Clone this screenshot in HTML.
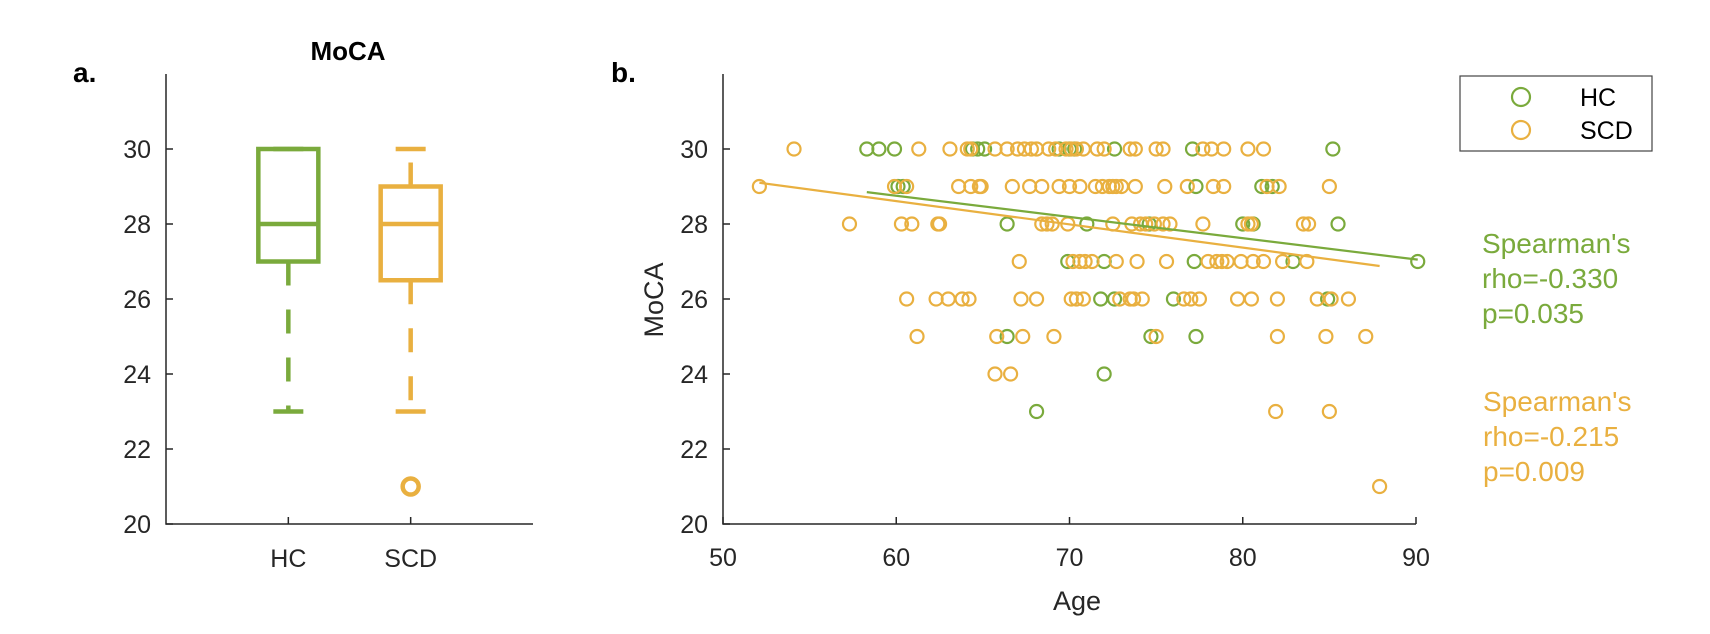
<!DOCTYPE html>
<html><head><meta charset="utf-8">
<style>
html,body{margin:0;padding:0;background:#fff;}
svg{display:block;font-family:"Liberation Sans",Arial,sans-serif;}
</style></head>
<body>
<svg id="fig" width="1710" height="634" viewBox="0 0 1710 634">
  <g id="pa"></g>
  <g id="pb"></g>
</svg>
<script>
// ---------- Panel a data ----------
const boxCats = ['HC','SCD'];
const boxQ1 = [27, 26.5];
const boxMed = [28, 28];
const boxQ3 = [30, 29];
const boxLo = [23, 23];
const boxHi = [30, 30];
const boxOutliers = [[], [21]];
const yTicks = [20,22,24,26,28,30];

// ---------- Panel b data ----------
const xTicks = [50,60,70,80,90];
const hcAge = [58.3,59.0,59.9,64.4,64.7,65.1,69.4,70.0,70.3,72.6,77.1,85.2,
  60.1,60.4,77.3,81.1,81.7,
  66.4,71.0,74.6,80.0,80.6,85.5,
  69.9,72.0,77.2,82.9,90.1,
  71.8,72.6,76.0,84.9,
  66.4,74.7,77.3,
  72.0,
  68.1];
const hcMoca = [30,30,30,30,30,30,30,30,30,30,30,30,
  29,29,29,29,29,
  28,28,28,28,28,28,
  27,27,27,27,27,
  26,26,26,26,
  25,25,25,
  24,
  23];
const scdAge = [54.1,61.3,63.1,64.1,64.3,65.7,66.4,67.0,67.4,67.8,68.1,68.8,69.2,69.8,70.1,70.4,70.8,71.6,72.0,73.5,73.8,75.0,75.4,77.7,78.2,78.9,80.3,81.2,
  52.1,59.9,60.6,63.6,64.3,64.8,64.9,66.7,67.7,68.4,69.4,70.0,70.6,71.5,71.9,72.3,72.5,72.7,73.0,73.8,75.5,76.8,78.3,78.9,81.4,82.1,85.0,
  57.3,60.3,60.9,62.4,62.5,68.4,68.7,69.0,69.9,72.5,73.6,74.1,74.4,74.9,75.4,75.8,77.7,80.3,80.5,83.5,83.8,
  67.1,70.2,70.6,70.9,71.3,72.7,73.9,75.6,78.0,78.5,78.8,79.1,79.9,80.6,81.2,82.3,83.7,
  60.6,62.3,63.0,63.8,64.2,67.2,68.1,70.1,70.4,70.8,72.9,73.5,73.7,74.2,76.6,77.0,77.5,79.7,80.5,82.0,84.3,85.1,86.1,
  61.2,65.8,67.3,69.1,75.0,82.0,84.8,87.1,
  65.7,66.6,
  81.9,85.0,
  87.9];
const scdMoca = [30,30,30,30,30,30,30,30,30,30,30,30,30,30,30,30,30,30,30,30,30,30,30,30,30,30,30,30,
  29,29,29,29,29,29,29,29,29,29,29,29,29,29,29,29,29,29,29,29,29,29,29,29,29,29,29,
  28,28,28,28,28,28,28,28,28,28,28,28,28,28,28,28,28,28,28,28,28,
  27,27,27,27,27,27,27,27,27,27,27,27,27,27,27,27,27,
  26,26,26,26,26,26,26,26,26,26,26,26,26,26,26,26,26,26,26,26,26,26,26,
  25,25,25,25,25,25,25,25,
  24,24,
  23,23,
  21];
const hcFitX = [58.3, 90.1];
const hcFitY = [28.85, 27.05];
const scdFitX = [52.1, 87.9];
const scdFitY = [29.1, 26.88];

const GREEN = '#7AAA3C', ORANGE = '#E9B040', AX = '#262626';
const NS = 'http://www.w3.org/2000/svg';
function mk(parent, tag, attrs, text){
  const e = document.createElementNS(NS, tag);
  for (const k in attrs) e.setAttribute(k, attrs[k]);
  if (text !== undefined) e.textContent = text;
  parent.appendChild(e);
  return e;
}
// shared y scale
const Y0 = 524, Y1 = 74, YMIN = 20, YMAX = 32;
const y = v => Y0 - (v - YMIN) / (YMAX - YMIN) * (Y0 - Y1);

// ---------- Panel a ----------
const pa = document.getElementById('pa');
const AX0 = 166, AX1 = 533;
const xa = v => AX0 + v / 3 * (AX1 - AX0);
let t;
t = mk(pa,'text',{x:73,y:82,'font-size':28,'font-weight':'bold',fill:'#000'},'a.');
 
t = mk(pa,'text',{x:348,y:60,'font-size':26,'font-weight':'bold','text-anchor':'middle',fill:'#000'},'MoCA');
 
let ln = mk(pa,'path',{d:`M${AX0},${Y1} V${Y0} H${AX1}`,stroke:AX,'stroke-width':1.5,fill:'none'});
 
yTicks.forEach(v=>{
  const l = mk(pa,'line',{x1:AX0,x2:AX0+7,y1:y(v),y2:y(v),stroke:AX,'stroke-width':1.5});
   
  const tx = mk(pa,'text',{x:151,y:y(v)+9,'font-size':25,'text-anchor':'end',fill:AX},String(v));
   
});
boxCats.forEach((c,i)=>{
  const cx = xa(i+1), col = i===0?GREEN:ORANGE, hw = 30, cw = 15;
  const l = mk(pa,'line',{x1:cx,x2:cx,y1:Y0,y2:Y0-7,stroke:AX,'stroke-width':1.5});
   
  const tx = mk(pa,'text',{x:cx,y:567,'font-size':25,'text-anchor':'middle',fill:AX},c);
   
  const g = mk(pa,'g',{});
   
  mk(g,'line',{x1:cx,x2:cx,y1:y(boxQ1[i]),y2:y(boxLo[i]),stroke:col,'stroke-width':4.5,'stroke-dasharray':'24 24'});
  mk(g,'line',{x1:cx,x2:cx,y1:y(boxQ3[i]),y2:y(boxHi[i]),stroke:col,'stroke-width':4.5,'stroke-dasharray':'24 24'});
  mk(g,'line',{x1:cx-cw,x2:cx+cw,y1:y(boxLo[i]),y2:y(boxLo[i]),stroke:col,'stroke-width':4.5});
  mk(g,'line',{x1:cx-cw,x2:cx+cw,y1:y(boxHi[i]),y2:y(boxHi[i]),stroke:col,'stroke-width':4.5});
  mk(g,'rect',{x:cx-hw,y:y(boxQ3[i]),width:2*hw,height:y(boxQ1[i])-y(boxQ3[i]),stroke:col,'stroke-width':4.5,fill:'none'});
  mk(g,'line',{x1:cx-hw,x2:cx+hw,y1:y(boxMed[i]),y2:y(boxMed[i]),stroke:col,'stroke-width':4.5});
  boxOutliers[i].forEach(o=>{
    const cc = mk(g,'circle',{cx:cx,cy:y(o),r:8,stroke:col,'stroke-width':4.5,fill:'none'});
     
  });
});

// ---------- Panel b ----------
const pb = document.getElementById('pb');
const BX0 = 723, BX1 = 1416, XMIN = 50, XMAX = 90;
const xb = v => BX0 + (v - XMIN) / (XMAX - XMIN) * (BX1 - BX0);
t = mk(pb,'text',{x:611,y:82,'font-size':28,'font-weight':'bold',fill:'#000'},'b.');
 
ln = mk(pb,'path',{d:`M${BX0},${Y1} V${Y0} H${BX1}`,stroke:AX,'stroke-width':1.5,fill:'none'});
 
yTicks.forEach(v=>{
  const l = mk(pb,'line',{x1:BX0,x2:BX0+7,y1:y(v),y2:y(v),stroke:AX,'stroke-width':1.5});
   
  const tx = mk(pb,'text',{x:708,y:y(v)+9,'font-size':25,'text-anchor':'end',fill:AX},String(v));
   
});
xTicks.forEach(v=>{
  const l = mk(pb,'line',{x1:xb(v),x2:xb(v),y1:Y0,y2:Y0-7,stroke:AX,'stroke-width':1.5});
   
  const tx = mk(pb,'text',{x:xb(v),y:566,'font-size':25,'text-anchor':'middle',fill:AX},String(v));
   
});
t = mk(pb,'text',{x:1077,y:610,'font-size':27,'text-anchor':'middle',fill:AX},'Age');
 
t = mk(pb,'text',{x:0,y:0,'font-size':27,'text-anchor':'middle',fill:AX,transform:'translate(663,300) rotate(-90)'},'MoCA');
 

const gh = mk(pb,'g',{});
 
hcAge.forEach((a,i)=>{
  const c = mk(gh,'circle',{cx:xb(a),cy:y(hcMoca[i]),r:6.5,stroke:GREEN,'stroke-width':2.2,fill:'none'});
   
});
const gs = mk(pb,'g',{});
 
scdAge.forEach((a,i)=>{
  const c = mk(gs,'circle',{cx:xb(a),cy:y(scdMoca[i]),r:6.5,stroke:ORANGE,'stroke-width':2.2,fill:'none'});
   
});
ln = mk(pb,'line',{x1:xb(hcFitX[0]),y1:y(hcFitY[0]),x2:xb(hcFitX[1]),y2:y(hcFitY[1]),stroke:GREEN,'stroke-width':2.2});
 
ln = mk(pb,'line',{x1:xb(scdFitX[0]),y1:y(scdFitY[0]),x2:xb(scdFitX[1]),y2:y(scdFitY[1]),stroke:ORANGE,'stroke-width':2.2});
 

// legend
const lg = mk(pb,'g',{});
 
mk(lg,'rect',{x:1460,y:76,width:192,height:75,fill:'#fff',stroke:'#444','stroke-width':1.2});
let e;
e = mk(lg,'circle',{cx:1521,cy:97,r:9,stroke:GREEN,'stroke-width':2.2,fill:'none'});
 
e = mk(lg,'text',{x:1580,y:106,'font-size':25,fill:'#000'},'HC');
 
e = mk(lg,'circle',{cx:1521,cy:130,r:9,stroke:ORANGE,'stroke-width':2.2,fill:'none'});
 
e = mk(lg,'text',{x:1580,y:139,'font-size':25,fill:'#000'},'SCD');
 

// annotations
const hcStat = ["Spearman's","rho=-0.330","p=0.035"];
const scdStat = ["Spearman's","rho=-0.215","p=0.009"];
hcStat.forEach((s,i)=>{
  const tx = mk(pb,'text',{x:1482,y:253+i*35,'font-size':28,fill:GREEN},s);
   
});
scdStat.forEach((s,i)=>{
  const tx = mk(pb,'text',{x:1483,y:411+i*35,'font-size':28,fill:ORANGE},s);
   
});
</script>
</body></html>
